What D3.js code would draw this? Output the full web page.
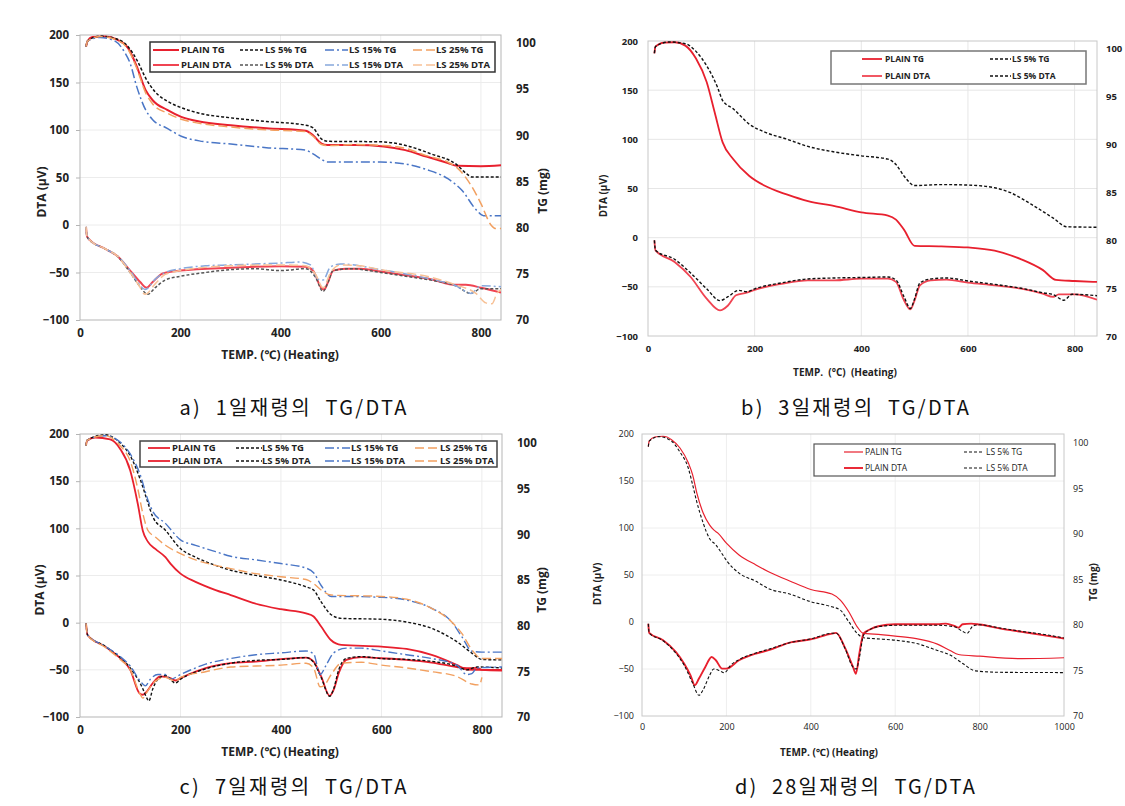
<!DOCTYPE html>
<html><head><meta charset="utf-8">
<script src="https://cdn.jsdelivr.net/npm/d3@7/dist/d3.min.js"></script>
<style>body{margin:0;background:#fff;}svg{display:block;}</style>
</head><body>
<script>
// ---------- tick labels ----------
const xTicks840 = [0, 200, 400, 600, 800];
const xTicks1000 = [0, 200, 400, 600, 800, 1000];
const dtaTicks = [-100, -50, 0, 50, 100, 150, 200];
const tgTicks = [70, 75, 80, 85, 90, 95, 100];
const xTitle = "TEMP. (\u2103) (Heating)";
const xTitleB = "TEMP.  (\u00B0C)  (Heating)";
const yTitleL = "DTA (\u03BCV)";
const yTitleR = "TG (mg)";
const captions = ["a)  1일재령의  TG/DTA", "b)  3일재령의  TG/DTA", "c)  7일재령의  TG/DTA", "d)  28일재령의  TG/DTA"];
const legend4 = ["PLAIN TG", "LS 5% TG", "LS 15% TG", "LS 25% TG", "PLAIN DTA", "LS 5% DTA", "LS 15% DTA", "LS 25% DTA"];
const legend2b = ["PLAIN TG", "LS 5% TG", "PLAIN DTA", "LS 5% DTA"];
const legend2d = ["PALIN TG", "LS 5% TG", "PLAIN DTA", "LS 5% DTA"];

// ---------- panel a (1 day) : [temperature, value] ----------
const aPlainTG = [[12,99.6],[15,100.2],[25,100.65],[50,100.7],[74,100.36],[96,99.45],[113,97.5],[131,94.9],[145,93.8],[174,92.75],[202,92.0],[238,91.5],[301,91.1],[372,90.76],[450,90.5],[465,90.0],[482,89.1],[493,88.95],[550,88.95],[606,88.8],[649,88.4],[691,87.7],[734,87.0],[752,86.7],[800,86.65],[840,86.75]];
const aLs5TG = [[12,99.6],[15,100.2],[40,100.75],[70,100.5],[96,99.6],[115,98.0],[131,96.2],[150,94.7],[174,93.7],[202,93.0],[238,92.4],[300,91.9],[372,91.5],[450,91.1],[465,90.8],[482,89.6],[495,89.35],[600,89.3],[650,88.9],[700,88.0],[752,86.8],[770,85.9],[782,85.5],[840,85.5]];
const aLs15TG = [[12,99.6],[15,100.2],[40,100.6],[70,100.2],[90,98.9],[100,97.8],[113,95.3],[131,92.75],[145,91.7],[174,90.76],[202,89.9],[238,89.4],[301,89.06],[372,88.66],[450,88.4],[465,88.0],[482,87.4],[493,87.1],[600,87.1],[649,86.9],[691,86.3],[734,85.3],[762,84.05],[791,81.9],[805,81.3],[840,81.3]];
const aLs25TG = [[12,99.6],[15,100.2],[40,100.7],[70,100.4],[96,99.3],[113,97.3],[131,94.6],[145,93.4],[174,92.4],[202,91.75],[238,91.3],[301,90.9],[372,90.6],[450,90.4],[465,89.9],[482,89.0],[493,88.9],[550,89.0],[606,88.9],[649,88.6],[691,87.8],[734,87.1],[752,86.5],[780,84.6],[800,82.6],[820,80.3],[830,79.9],[840,79.9]];
const aPlainDTA = [[12,-2],[14,-12],[20,-16],[50,-25],[75,-33],[100,-48],[120,-60],[133,-66],[145,-60],[165,-51],[200,-48],[300,-45],[400,-43.5],[450,-44],[465,-48],[480,-65],[487,-68],[495,-60],[505,-48],[530,-46],[560,-46],[600,-49],[650,-53],[700,-57],[750,-63],[770,-63],[800,-66],[840,-71]];
const aLs5DTA = [[12,-2],[14,-12],[20,-16],[50,-25],[75,-33],[100,-50],[120,-65],[135,-73],[150,-66],[170,-58],[200,-54],[250,-50],[300,-47],[350,-46],[400,-48],[450,-46],[470,-55],[485,-70],[495,-60],[505,-48],[540,-46],[600,-50],[650,-54],[700,-58],[750,-64],[780,-72],[800,-67],[840,-67]];
const aLs15DTA = [[12,-2],[14,-12],[20,-16],[50,-25],[75,-33],[100,-48],[115,-60],[130,-68],[150,-57],[170,-50],[200,-46],[250,-43],[300,-42],[400,-40],[440,-39],[460,-42],[475,-57],[485,-58],[500,-44],[520,-41],[600,-47],[700,-57],[750,-64],[780,-72],[800,-64],[840,-65]];
const aLs25DTA = [[12,-2],[14,-12],[20,-16],[50,-25],[75,-33],[100,-50],[118,-64],[130,-73],[150,-62],[170,-52],[200,-48],[300,-43],[400,-42],[450,-43],[470,-52],[485,-66],[500,-50],[520,-42],[560,-43],[600,-47],[700,-55],[750,-63],[790,-72],[810,-82],[822,-83],[832,-72],[840,-68]];

// ---------- panel b (3 days) ----------
const bPlainTG = [[12,99.5],[14,100.2],[30,100.62],[50,100.65],[70,100.3],[90,98.95],[110,96.5],[125,93.35],[140,90.2],[160,88.45],[190,86.7],[220,85.65],[260,84.77],[300,84.07],[350,83.55],[400,82.9],[450,82.57],[465,82.15],[480,81.1],[500,79.4],[550,79.35],[600,79.24],[650,78.9],[700,78.0],[740,76.9],[765,75.85],[800,75.74],[842,75.64]];
const bLs5TG = [[12,99.5],[14,100.2],[40,100.68],[70,100.5],[90,99.7],[110,98.2],[130,96.0],[140,94.57],[160,93.7],[190,92.1],[220,91.25],[260,90.55],[300,89.78],[350,89.2],[400,88.8],[450,88.45],[465,87.9],[480,86.7],[500,85.7],[550,85.8],[600,85.75],[650,85.47],[680,84.95],[720,83.7],[760,82.3],[785,81.4],[842,81.35]];
const bPlainDTA = [[12,-2.7],[14,-12.9],[50,-24.7],[80,-40],[110,-62],[135,-74],[150,-69],[165,-58.6],[185,-56],[200,-53],[250,-47],[300,-43.4],[350,-43.4],[400,-41.7],[450,-41.7],[465,-45],[480,-63.7],[492,-73],[500,-63.7],[510,-48.5],[530,-43.4],[560,-42.7],[600,-45.8],[650,-48.5],[700,-51.9],[740,-57],[760,-60.3],[770,-57.6],[800,-57.6],[842,-63]];
const bLs5DTA = [[12,-2.7],[14,-12.9],[50,-22],[80,-36],[110,-52],[135,-64],[150,-60],[170,-53.6],[185,-55],[200,-52],[250,-46],[300,-42],[350,-41],[400,-40.5],[450,-40],[465,-43],[480,-60],[492,-72],[500,-62],[510,-46],[530,-42],[560,-41],[600,-44],[650,-47.5],[700,-51.5],[740,-56],[760,-58],[780,-63.6],[795,-57.6],[842,-59]];

// ---------- panel c (7 days) ----------
const cPlainTG = [[12,99.7],[14,100.25],[30,100.6],[60,100.4],[80,99.35],[100,97],[115,93.35],[125,90.4],[135,89.2],[150,88.4],[170,87.5],[180,86.8],[200,85.7],[230,84.8],[270,83.9],[300,83.35],[350,82.4],[400,81.8],[450,81.35],[465,81.0],[480,79.9],[500,78.4],[520,77.9],[600,77.7],[650,77.45],[700,76.8],[750,75.7],[770,75.2],[800,75.15],[840,75.15]];
const cLs5TG = [[12,99.7],[14,100.3],[50,100.9],[80,100.0],[100,98.6],[120,96.0],[135,93.5],[145,91.9],[170,90.45],[200,88.44],[230,87.5],[270,86.6],[300,86.07],[350,85.5],[400,85.0],[450,84.25],[465,83.9],[480,82.6],[500,81.2],[520,80.8],[600,80.7],[650,80.4],[700,79.7],[750,78.25],[780,77.0],[800,76.3],[840,76.25]];
const cLs15TG = [[12,99.7],[14,100.3],[50,100.8],[80,100.1],[100,98.8],[120,96.5],[135,93.8],[145,92.5],[170,91.2],[200,89.4],[230,88.8],[270,88.1],[300,87.6],[350,87.2],[400,86.8],[450,86.3],[465,85.8],[480,84.4],[500,83.2],[520,83.2],[600,83.1],[650,82.8],[700,81.9],[740,80.4],[760,78.8],[780,77.2],[800,77.1],[840,77.1]];
const cLs25TG = [[12,99.7],[14,100.3],[50,100.8],[80,99.7],[100,98.0],[115,95.0],[125,92.3],[135,90.45],[150,89.7],[170,88.8],[200,87.9],[230,87.2],[270,86.6],[300,86.25],[350,85.7],[400,85.35],[450,85.05],[465,84.6],[480,83.9],[500,83.35],[600,83.2],[650,82.9],[700,81.9],[740,80.4],[760,79.15],[780,77.35],[800,76.4],[840,76.4]];
const cPlainDTA = [[12,-0.7],[15,-13],[50,-25.4],[80,-37.7],[100,-50],[118,-74.6],[125,-76.4],[133,-73],[145,-64],[160,-57],[180,-58.8],[190,-61.3],[200,-58.8],[250,-48.2],[300,-43],[350,-41.2],[400,-38.7],[450,-37],[465,-41.2],[480,-57],[497,-77.5],[505,-71],[515,-53.5],[530,-39.4],[560,-36.6],[600,-37.7],[650,-39.4],[700,-42.3],[750,-47],[770,-48.2],[790,-48],[800,-50],[840,-50.7]];
const cLs5DTA = [[12,-0.7],[15,-13],[50,-25],[80,-37],[100,-48],[125,-70],[133,-80],[137,-83],[145,-70],[155,-60],[170,-56],[190,-64],[200,-60],[250,-49],[300,-43],[350,-40],[400,-39],[450,-37],[465,-42],[480,-58],[497,-78],[505,-70],[515,-50],[530,-38],[560,-36],[600,-38],[650,-39],[700,-41],[750,-46],[770,-50],[790,-47],[840,-48]];
const cLs15DTA = [[12,-0.7],[15,-13],[50,-25],[80,-36],[100,-46],[120,-62],[130,-67],[140,-60],[155,-55],[170,-55],[180,-60],[200,-55],[250,-44],[300,-38],[350,-34],[400,-32],[450,-30],[465,-33],[478,-55],[490,-45],[505,-32],[530,-27],[560,-27],[600,-30],[650,-34],[700,-38],[750,-45],[770,-55],[780,-54],[790,-48],[840,-47]];
const cLs25DTA = [[12,-0.7],[15,-13],[50,-26],[80,-39],[100,-50],[120,-76],[125,-80],[135,-72],[150,-62],[170,-58],[190,-62],[200,-58],[250,-52],[300,-47],[350,-46],[400,-45],[450,-43],[465,-48],[478,-68],[485,-67],[500,-55],[520,-43],[560,-42],[600,-45],[650,-48],[700,-52],[750,-57],[780,-65],[795,-66],[800,-58]];

// ---------- panel d (28 days) ----------
const dPlainTG = [[15,99.6],[17,100.2],[30,100.66],[50,100.74],[70,100.37],[90,99.45],[110,97.8],[120,96.5],[130,94.5],[145,92.3],[160,91.0],[170,90.45],[180,90.1],[200,89.0],[230,87.7],[270,86.6],[300,85.86],[350,84.84],[400,83.9],[450,83.4],[470,82.74],[490,81.46],[510,79.8],[525,79.07],[550,79.0],[600,78.78],[650,78.5],[700,77.9],[730,77.2],[750,76.76],[800,76.57],[900,76.3],[1000,76.4]];
const dLs5TG = [[15,99.6],[17,100.2],[40,100.7],[70,100.2],[90,99.0],[110,97.2],[120,95.4],[130,93.5],[145,91.2],[160,89.5],[175,88.8],[190,87.8],[200,87.1],[230,85.7],[270,84.8],[300,84.0],[350,83.4],[400,82.56],[450,82.0],[470,81.64],[490,80.36],[510,79.07],[525,78.6],[550,78.5],[600,78.33],[650,77.97],[700,77.2],[730,76.7],[760,75.77],[790,74.96],[850,74.8],[1000,74.77]];
const dPlainDTA = [[15,-1.8],[17,-11.6],[50,-19.4],[80,-31.8],[100,-44.3],[115,-56.7],[125,-67.3],[135,-60.2],[150,-47.8],[165,-37.2],[175,-40.7],[190,-49.6],[200,-49.6],[230,-40.7],[270,-33.6],[300,-30],[350,-21.9],[400,-18.4],[450,-12.3],[460,-11.6],[480,-26.5],[500,-47.8],[507,-55],[515,-33.6],[525,-12.3],[540,-8],[560,-4.5],[600,-2.4],[650,-2.4],[700,-2.4],[720,-1.7],[740,-4.2],[750,-6],[760,-2.4],[780,-1.7],[800,-2.7],[850,-7],[900,-10.5],[950,-14],[1000,-17.6]];
const dLs5DTA = [[15,-1.8],[17,-11.6],[50,-20],[80,-33],[100,-46],[120,-65],[135,-78],[145,-72],[160,-57],[170,-50],[185,-52],[195,-54],[210,-46],[230,-40],[270,-33],[300,-29],[350,-22],[400,-18],[450,-12],[460,-12],[480,-27],[500,-48],[508,-50],[515,-38],[525,-14],[540,-8],[560,-5],[600,-3.5],[650,-3.5],[700,-3.5],[740,-5],[760,-10],[770,-12],[785,-4],[800,-3],[850,-6.5],[900,-10],[950,-13],[1000,-17]];

// ---------- styles ----------
const RED = "#e8202e", RED2 = "#f04452", BLK = "#111", GRY = "#555", BLU = "#4a76c6", BLU2 = "#86a8dc", ORG = "#f2a060", ORG2 = "#f7c196";
const DASH_BLK = "3,2", DASH_DOT = "9,3,2,3", DASH_LONG = "9,4";

const svg = d3.select("body").append("svg").attr("width", 1125).attr("height", 806);

function drawPanel(p) {
  const g = svg.append("g");
  const x = d3.scaleLinear().domain([0, p.xmax]).range([p.x0, p.x1]);
  const yL = d3.scaleLinear().domain([-100, 200]).range([p.y1, p.y0]);
  const h = p.y1 - p.y0;
  const yR = d3.scaleLinear().domain([70, 70 + 30 * h / (h - p.tgOff)]).range([p.y1, p.y0]);

  // grid
  g.selectAll(".gx").data(p.xTicks.filter(t => t > 0 && t < p.xmax)).join("line")
    .attr("x1", d => x(d)).attr("x2", d => x(d)).attr("y1", p.y0).attr("y2", p.y1)
    .attr("stroke", p.grid).attr("stroke-width", 1);
  g.selectAll(".gy").data(dtaTicks.filter(t => t > -100 && t < 200)).join("line")
    .attr("x1", p.x0).attr("x2", p.x1).attr("y1", d => yL(d)).attr("y2", d => yL(d))
    .attr("stroke", p.grid).attr("stroke-width", 1);
  // frame
  g.append("rect").attr("x", p.x0).attr("y", p.y0).attr("width", p.x1 - p.x0).attr("height", h)
    .attr("fill", "none").attr("stroke", p.frame).attr("stroke-width", 1);

  // axes
  const fw = p.bold ? "bold" : "normal";
  const tw = p.titleBold ? "bold" : fw;
  const axL = g.append("g").attr("transform", `translate(${p.x0},0)`)
    .call(d3.axisLeft(yL).tickValues(dtaTicks).tickSize(p.tick).tickPadding(p.padL).tickFormat(d3.format("d")));
  const axR = g.append("g").attr("transform", `translate(${p.x1},0)`)
    .call(d3.axisRight(yR).tickValues(tgTicks).tickSize(0).tickPadding(p.padR).tickFormat(d3.format("d")));
  const axB = g.append("g").attr("transform", `translate(0,${p.y1})`)
    .call(d3.axisBottom(x).tickValues(p.xTicks).tickSize(0).tickPadding(p.padB).tickFormat(d3.format("d")));
  [axL, axR, axB].forEach(a => {
    a.select(".domain").remove();
    a.selectAll("line").attr("stroke", p.frame);
    a.selectAll("text").attr("font-family", p.font).attr("font-size", p.fs).attr("font-weight", fw).attr("fill", "#222");
  });

  // titles
  g.append("text").attr("x", p.xtX).attr("y", p.xtY).attr("text-anchor", "middle").style("white-space", "pre")
    .attr("font-family", p.font).attr("font-size", p.tfs).attr("font-weight", tw).attr("fill", "#222").text(p.xTitle);
  g.append("text").attr("transform", `translate(${p.ylX},${p.ylY}) rotate(-90)`).attr("text-anchor", "middle")
    .attr("font-family", p.font).attr("font-size", p.tfs).attr("font-weight", tw).attr("fill", "#222").text(yTitleL);
  if (p.yrX) g.append("text").attr("transform", `translate(${p.yrX},${p.yrY}) rotate(-90)`).attr("text-anchor", "middle")
    .attr("font-family", p.font).attr("font-size", p.tfs).attr("font-weight", tw).attr("fill", "#222").text(yTitleR);

  // curves
  const clip = "clip" + p.id;
  svg.append("clipPath").attr("id", clip).append("rect").attr("x", p.x0).attr("y", p.y0 - 2).attr("width", p.x1 - p.x0).attr("height", h + 2);
  const cg = g.append("g").attr("clip-path", `url(#${clip})`);
  p.series.forEach(s => {
    const y = s.tg ? yR : yL;
    const line = d3.line().x(d => x(d[0])).y(d => y(d[1])).curve(d3.curveMonotoneX);
    cg.append("path").datum(s.data).attr("d", line).attr("fill", "none")
      .attr("stroke", s.color).attr("stroke-width", s.w).attr("stroke-dasharray", s.dash || null)
      .attr("stroke-linejoin", "round");
  });

  // legend
  const L = p.legend;
  g.append("rect").attr("x", L.x).attr("y", L.y).attr("width", L.w).attr("height", L.h)
    .attr("fill", "#fff").attr("stroke", L.stroke).attr("stroke-width", L.sw);
  const nc = L.cols.length;
  p.series.forEach((s, i) => {
    const col = i % nc, row = Math.floor(i / nc);
    const c = L.cols[col], yy = L.rows[row];
    g.append("line").attr("x1", c[0]).attr("x2", c[1]).attr("y1", yy).attr("y2", yy)
      .attr("stroke", s.color).attr("stroke-width", s.w).attr("stroke-dasharray", s.dash || null);
    g.append("text").attr("x", c[2]).attr("y", yy).attr("dy", "0.35em")
      .attr("font-family", p.font).attr("font-size", L.fs).attr("font-weight", fw).attr("fill", "#222")
      .text(p.legendLabels[i]);
  });

  // caption
  svg.append("text").attr("x", p.capX).attr("y", p.capY).attr("text-anchor", "middle").style("white-space", "pre")
    .attr("font-family", "'Noto Sans CJK KR', sans-serif").attr("font-size", 20).attr("fill", "#111")
    .attr("textLength", p.capW).attr("lengthAdjust", "spacing")
    .text(p.caption);
}

const FONT = "'Open Sans', 'Noto Sans', sans-serif";

drawPanel({
  id: "a", x0: 80, x1: 501, y0: 35, y1: 320, xmax: 840, tgOff: 8, xTicks: xTicks840,
  grid: "#ececec", frame: "#b5b5b5", bold: true, font: FONT, fs: 11.5, tfs: 12, tick: 4,
  padL: 7, padR: 15, padB: 9, xTitle: xTitle, xtX: 280, xtY: 359, ylX: 46, ylY: 192, yrX: 547, yrY: 191,
  series: [
    {data: aPlainTG, tg: true, color: RED, w: 2},
    {data: aLs5TG, tg: true, color: BLK, w: 1.5, dash: DASH_BLK},
    {data: aLs15TG, tg: true, color: BLU, w: 1.5, dash: DASH_DOT},
    {data: aLs25TG, tg: true, color: ORG, w: 1.5, dash: DASH_LONG},
    {data: aPlainDTA, tg: false, color: RED2, w: 2},
    {data: aLs5DTA, tg: false, color: GRY, w: 1.5, dash: DASH_BLK},
    {data: aLs15DTA, tg: false, color: BLU2, w: 1.5, dash: DASH_DOT},
    {data: aLs25DTA, tg: false, color: ORG2, w: 1.5, dash: DASH_LONG}
  ],
  legendLabels: legend4,
  legend: {x: 150, y: 42, w: 345, h: 30, stroke: "#333", sw: 1.5, fs: 9.5, rows: [50, 65],
    cols: [[153, 179, 181], [240, 264, 265], [325, 348, 349], [413, 435, 436]]},
  caption: captions[0], capX: 293, capY: 415, capW: 227
});

drawPanel({
  id: "b", x0: 648, x1: 1097, y0: 41, y1: 336, xmax: 842, tgOff: 7.5, xTicks: xTicks840,
  grid: "#e6e6e6", frame: "#c8c8c8", bold: true, font: FONT, fs: 9.5, tfs: 10, tick: 0,
  padL: 10, padR: 9, padB: 9, xTitle: xTitleB, xtX: 845, xtY: 376, ylX: 607, ylY: 196, yrX: null,
  series: [
    {data: bPlainTG, tg: true, color: RED, w: 1.8},
    {data: bLs5TG, tg: true, color: BLK, w: 1.4, dash: DASH_BLK},
    {data: bPlainDTA, tg: false, color: RED2, w: 1.8},
    {data: bLs5DTA, tg: false, color: BLK, w: 1.4, dash: DASH_BLK}
  ],
  legendLabels: legend2b,
  legend: {x: 831, y: 51, w: 255, h: 33, stroke: "#777", sw: 1.5, fs: 8.5, rows: [59, 76],
    cols: [[862, 882, 885], [990, 1011, 1012]]},
  caption: captions[1], capX: 855, capY: 415, capW: 228
});

drawPanel({
  id: "c", x0: 80, x1: 502, y0: 434, y1: 717, xmax: 840, tgOff: 9, xTicks: xTicks840,
  grid: "#ececec", frame: "#b5b5b5", bold: true, font: FONT, fs: 11.5, tfs: 12, tick: 4,
  padL: 7, padR: 15, padB: 9, xTitle: xTitle, xtX: 280, xtY: 756, ylX: 44, ylY: 590, yrX: 546, yrY: 590,
  series: [
    {data: cPlainTG, tg: true, color: RED, w: 1.8},
    {data: cLs5TG, tg: true, color: BLK, w: 1.4, dash: DASH_BLK},
    {data: cLs15TG, tg: true, color: BLU, w: 1.4, dash: DASH_DOT},
    {data: cLs25TG, tg: true, color: ORG, w: 1.4, dash: DASH_LONG},
    {data: cPlainDTA, tg: false, color: RED, w: 1.8},
    {data: cLs5DTA, tg: false, color: BLK, w: 1.4, dash: DASH_BLK},
    {data: cLs15DTA, tg: false, color: BLU, w: 1.4, dash: DASH_DOT},
    {data: cLs25DTA, tg: false, color: ORG, w: 1.4, dash: DASH_LONG}
  ],
  legendLabels: legend4,
  legend: {x: 140, y: 441, w: 357, h: 26, stroke: "#444", sw: 1.5, fs: 9.5, rows: [448, 461],
    cols: [[148, 170, 172], [236, 262, 262], [325, 350, 351], [415, 439, 440]]},
  caption: captions[2], capX: 293, capY: 794, capW: 227
});

drawPanel({
  id: "d", x0: 642, x1: 1064, y0: 434, y1: 716, xmax: 1000, tgOff: 9, xTicks: xTicks1000,
  grid: "#eeeeee", frame: "#c8c8c8", bold: false, titleBold: true, font: FONT, fs: 9, tfs: 10, tick: 0,
  padL: 8, padR: 9, padB: 8, xTitle: xTitle, xtX: 829, xtY: 756, ylX: 601, ylY: 584, yrX: 1097, yrY: 582,
  series: [
    {data: dPlainTG, tg: true, color: RED, w: 1.2},
    {data: dLs5TG, tg: true, color: BLK, w: 1.1, dash: DASH_BLK},
    {data: dPlainDTA, tg: false, color: RED, w: 1.9},
    {data: dLs5DTA, tg: false, color: BLK, w: 1.1, dash: DASH_BLK}
  ],
  legendLabels: legend2d,
  legend: {x: 814, y: 444, w: 241, h: 32, stroke: "#555", sw: 1.2, fs: 8.5, rows: [452, 468],
    cols: [[844, 863, 865], [964, 984, 986]]},
  caption: captions[3], capX: 855, capY: 794, capW: 240
});
</script>
</body></html>
